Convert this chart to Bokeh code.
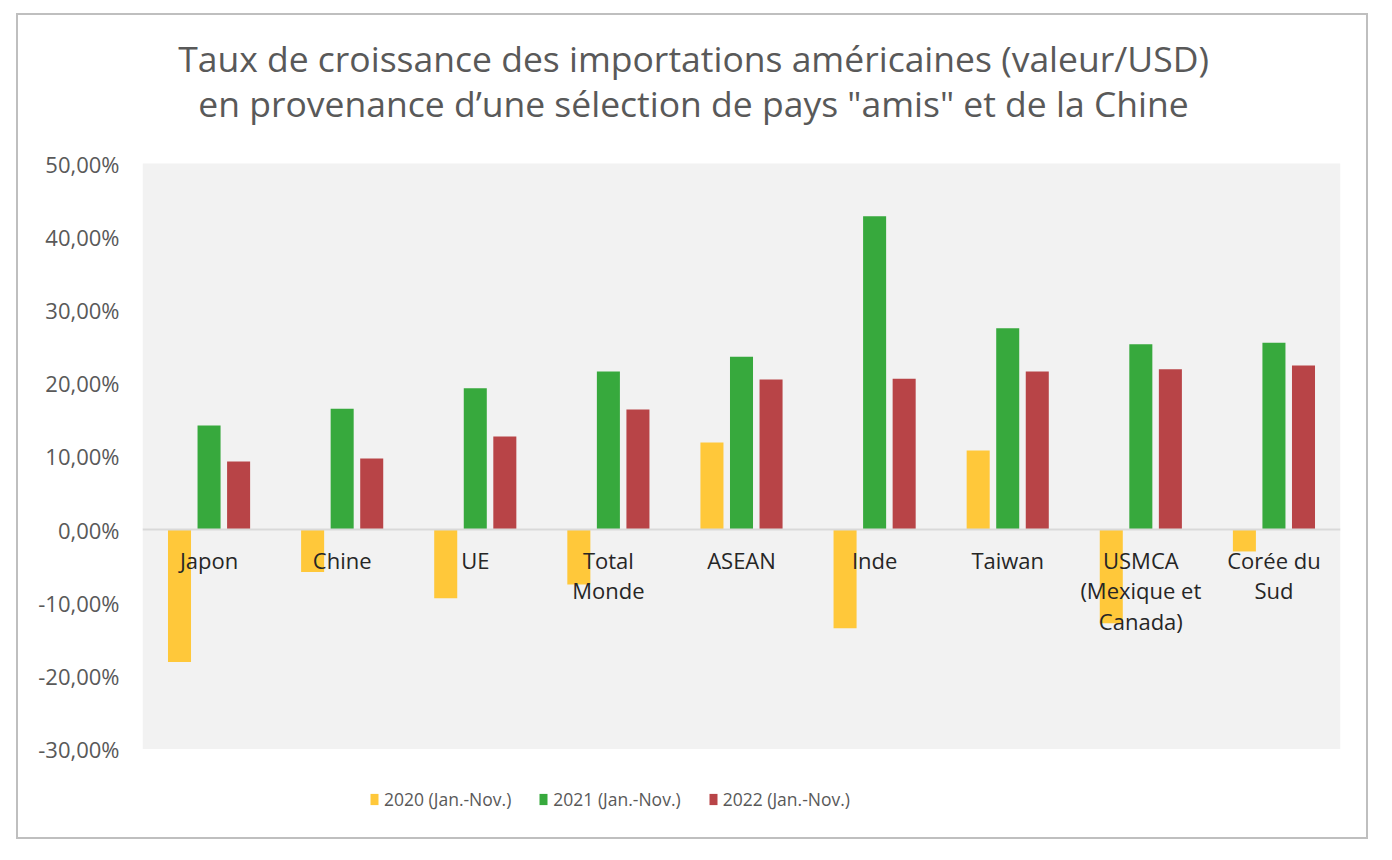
from bokeh.plotting import figure
from bokeh.models import (FactorRange, Range1d, Span, Label, Legend, LegendItem,
                          BoxAnnotation, CustomJSTickFormatter, FixedTicker,
                          ColumnDataSource)
from bokeh.transform import dodge
from bokeh.core.properties import value
from bokeh.embed import file_html
from bokeh.resources import INLINE

# ---------------- data ----------------
categories = ["Japon", "Chine", "UE", "Total Monde", "ASEAN", "Inde",
              "Taiwan", "USMCA (Mexique et Canada)", "Corée du Sud"]
category_labels = ["Japon", "Chine", "UE", "Total\nMonde", "ASEAN", "Inde",
                   "Taiwan", "USMCA\n(Mexique et\nCanada)", "Corée du\nSud"]
v2020 = [-18.1, -5.8, -9.4, -7.5, 11.9, -13.5, 10.8, -12.8, -3.0]
v2021 = [14.2, 16.5, 19.3, 21.6, 23.6, 42.8, 27.5, 25.3, 25.5]
v2022 = [9.3, 9.7, 12.7, 16.4, 20.5, 20.6, 21.6, 21.9, 22.4]
series_names = ["2020 (Jan.-Nov.)", "2021 (Jan.-Nov.)", "2022 (Jan.-Nov.)"]
y_ticks = [-30, -20, -10, 0, 10, 20, 30, 40, 50]
title_lines = ["Taux de croissance des importations américaines (valeur/USD)",
               "en provenance d\u2019une sélection de pays \"amis\" et de la Chine"]

colors = ["#FFC83A", "#37A93D", "#B84447"]
FONT = "Open Sans"

src = ColumnDataSource(dict(cat=categories, label=category_labels,
                            v2020=v2020, v2021=v2021, v2022=v2022,
                            zero=[0] * len(categories)))

# layout in pixels: the frame spans the full canvas height; the grey
# plotting area (-30 % .. 50 %) starts PAD_TOP px below the canvas top
W, H = 1352, 826
PAD_TOP, AREA_H = 148, 585.6
ppu = AREA_H / (y_ticks[-1] - y_ticks[0])
y_top = y_ticks[-1] + PAD_TOP / ppu
y_bot = y_ticks[-1] - (H - PAD_TOP) / ppu

p = figure(x_range=FactorRange(*categories, range_padding=0),
           y_range=Range1d(y_bot, y_top), width=W, height=H,
           output_backend="svg", toolbar_location=None,
           min_border_left=124, min_border_right=30,
           min_border_top=0, min_border_bottom=0)
p.styles = {"border": "2px solid #bfbfbf", "transform": "translate(16px, 13px)"}

p.background_fill_color = "white"
p.border_fill_color = "white"
p.outline_line_color = None
p.xgrid.visible = False
p.ygrid.visible = False
p.xaxis.visible = False

# grey plot area
p.add_layout(BoxAnnotation(bottom=y_ticks[0], top=y_ticks[-1],
                           fill_color="#F2F2F2", fill_alpha=1,
                           line_color=None, level="underlay"))

ya = p.yaxis[0]
ya.ticker = FixedTicker(ticks=y_ticks)
ya.formatter = CustomJSTickFormatter(
    code="return tick.toFixed(2).replace('.', ',') + '%';")
ya.axis_line_color = None
ya.major_tick_line_color = None
ya.minor_tick_line_color = None
ya.major_tick_out = 0
ya.major_label_standoff = 23
ya.major_label_text_font = FONT
ya.major_label_text_font_size = "22px"
ya.major_label_text_color = "#595959"

offsets = [-0.222, 0.0, 0.222]
renderers = []
for col, off, c in zip(["v2020", "v2021", "v2022"], offsets, colors):
    r = p.vbar(x=dodge("cat", off, range=p.x_range), top=col, bottom=0,
               width=0.173, source=src, fill_color=c, line_color=None)
    renderers.append(r)

p.add_layout(Span(location=0, dimension="width", line_color="#D9D9D9",
                  line_width=2))

p.text(x="cat", y="zero", text="label", source=src,
       text_font=value(FONT), text_font_size="22px", text_color="#262626",
       text_align="center", text_baseline="top", y_offset=15,
       text_line_height=1.03)

# title (screen units: from the frame's bottom-left corner)
for i, t in enumerate(title_lines):
    p.add_layout(Label(x=551, y=H - 42 - 45 * i, x_units="screen",
                       y_units="screen", text=t, text_font=FONT,
                       text_font_size="35.5px", text_color="#595959",
                       text_align="center", text_baseline="alphabetic"))

legend = Legend(items=[LegendItem(label=n, renderers=[r])
                       for n, r in zip(series_names, renderers)],
                orientation="horizontal", location=(227, 30),
                glyph_width=10, glyph_height=14, label_standoff=5,
                label_height=20, spacing=27, padding=0, margin=0,
                border_line_color=None, background_fill_alpha=0,
                label_text_font=FONT, label_text_font_size="17.5px",
                label_text_color="#595959")
p.add_layout(legend, "center")

open("out.html", "w").write(file_html(p, INLINE))
